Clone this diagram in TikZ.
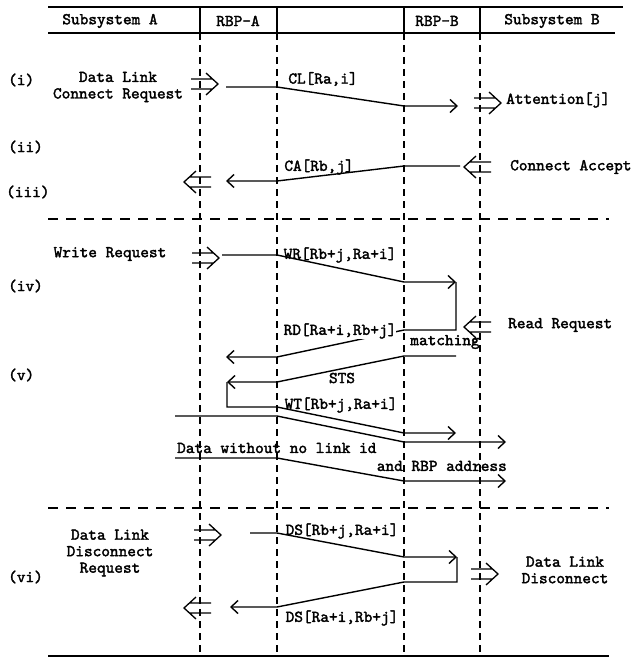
\documentclass[tikz,border=0pt]{standalone}
\usepackage{fontspec}
\setmonofont{lmmono10-regular.otf}[FakeBold=2]
\usetikzlibrary{arrows.meta}

\begin{document}
\begin{tikzpicture}[x=1pt,y=-1pt,
    font=\ttfamily\fontsize{16.5}{16.5}\selectfont,
    lbl/.style={inner sep=0pt,align=center},
    rule/.style={line width=2pt},
    life/.style={line width=1.2pt,dash pattern=on 7pt off 5pt},
    sep/.style={line width=1.2pt,dash pattern=on 10pt off 8pt},
    msg/.style={line width=1.4pt,-{Straight Barb[length=7pt,width=13pt]}},
    dblr/.pic={\draw[line width=1.3pt] (-13,-5) -- (8,-5) (-13,5) -- (8,5)
        (2,-11) -- (14,0) -- (2,11);},
    dbll/.pic={\draw[line width=1.3pt] (13,-5) -- (-8,-5) (13,5) -- (-8,5)
        (-2,-11) -- (-14,0) -- (-2,11);}
  ]
  \path[use as bounding box] (0,0) rectangle (632,658);

  % header
  \coordinate (h0) at (48,7);    \coordinate (h1) at (623,7);
  \coordinate (h2) at (48,33);   \coordinate (h3) at (615,33);
  \draw[rule] (h0) -- (h1);
  \draw[rule] (h2) -- (h3);
  \node[lbl] (hA)  at (110,21) {Subsystem A};
  \node[lbl] (hRA) at (238,21) {RBP-A};
  \node[lbl] (hRB) at (437,21) {RBP-B};
  \node[lbl] (hB)  at (552,21) {Subsystem B};

  % lifelines
  \coordinate (a0) at (200,7);  \coordinate (a1) at (200,33);  \coordinate (a2) at (200,656);
  \coordinate (b0) at (277,7);  \coordinate (b1) at (277,33);  \coordinate (b2) at (277,656);
  \coordinate (c0) at (404,7);  \coordinate (c1) at (404,33);  \coordinate (c2) at (404,656);
  \coordinate (d0) at (480,7);  \coordinate (d1) at (480,33);  \coordinate (d2) at (480,656);
  \draw[line width=1.4pt] (a0) -- (a1) (b0) -- (b1) (c0) -- (c1) (d0) -- (d1);
  \draw[life] (a1) -- (a2);
  \draw[life] (b1) -- (b2);
  \draw[life] (c1) -- (c2);
  \draw[life] (d1) -- (d2);

  % (i) connect request
  \node[lbl,anchor=west] (ri) at (8,80) {(i)};
  \node[lbl] (dlc) at (118,87) {Data Link\\Connect Request};
  \pic at (204,84) {dblr};
  \coordinate (cl0) at (226,87);  \coordinate (cl1) at (277,87);
  \coordinate (cl2) at (404,106); \coordinate (cl3) at (458,106);
  \draw[msg] (cl0) -- (cl1) -- (cl2) -- (cl3);
  \node[lbl] (cll) at (323,79) {CL[Ra,i]};
  \pic at (487,103) {dblr};
  \node[lbl,anchor=west] (att) at (506,100) {Attention[j]};

  % (ii) (iii) connect accept
  \node[lbl,anchor=west] (rii) at (8,147) {(ii)};
  \node[lbl,anchor=west] (riii) at (6,192) {(iii)};
  \pic at (478,167) {dbll};
  \node[lbl,anchor=west] (cac) at (510,167) {Connect Accept};
  \coordinate (ca0) at (460,166); \coordinate (ca1) at (404,166);
  \coordinate (ca2) at (277,181); \coordinate (ca3) at (226,181);
  \draw[msg] (ca0) -- (ca1) -- (ca2) -- (ca3);
  \node[lbl] (cal) at (319,167) {CA[Rb,j]};
  \pic at (198,182) {dbll};

  \coordinate (s1a) at (48,219); \coordinate (s1b) at (609,219);
  \draw[sep] (s1a) -- (s1b);

  % (iv) (v) write / read
  \node[lbl] (wrq) at (110,254) {Write Request};
  \pic at (205,258) {dblr};
  \coordinate (wr0) at (222,255); \coordinate (wr1) at (277,255);
  \coordinate (wr2) at (404,282); \coordinate (wr3) at (456,282);
  \draw[msg] (wr0) -- (wr1) -- (wr2) -- (wr3);
  \node[lbl] (wrl) at (340,255) {WR[Rb+j,Ra+i]};
  \node[lbl,anchor=west] (riv) at (8,286) {(iv)};

  \pic at (478,327) {dbll};
  \node[lbl,anchor=west] (rrq) at (508,325) {Read Request};
  \coordinate (rd0) at (456,330); \coordinate (rd1) at (404,330);
  \coordinate (rd2) at (277,357); \coordinate (rd3) at (226,357);
  \draw[msg] (wr3) -- (rd0) -- (rd1) -- (rd2) -- (rd3);
  \node[lbl,fill=white] (rdl) at (340,331) {RD[Ra+i,Rb+j]};
  \node[lbl] (mat) at (445,342) {matching};

  \coordinate (st0) at (456,356); \coordinate (st1) at (404,356);
  \coordinate (st2) at (277,382); \coordinate (st3) at (227,382);
  \draw[msg] (st0) -- (st1) -- (st2) -- (st3);
  \node[lbl] (stl) at (342,378) {STS};
  \node[lbl,anchor=west] (rv) at (8,375) {(v)};

  \coordinate (wt1) at (227,407); \coordinate (wt2) at (277,407);
  \coordinate (wt3) at (404,433); \coordinate (wt4) at (456,433);
  \draw[msg] (st3) -- (wt1) -- (wt2) -- (wt3) -- (wt4);
  \node[lbl] (wtl) at (341,405) {WT[Rb+j,Ra+i]};

  \coordinate (da0) at (175,416); \coordinate (da1) at (277,416);
  \coordinate (da2) at (404,442); \coordinate (da3) at (506,442);
  \draw[msg] (da0) -- (da1) -- (da2) -- (da3);
  \node[lbl,anchor=west] (dtx) at (177,448) {Data without no link id};
  \coordinate (db0) at (175,458); \coordinate (db1) at (277,458);
  \coordinate (db2) at (404,481); \coordinate (db3) at (506,481);
  \draw[msg] (db0) -- (db1) -- (db2) -- (db3);
  \node[lbl,anchor=east] (rbp) at (507,466) {and RBP address};

  \coordinate (s2a) at (48,508); \coordinate (s2b) at (609,508);
  \draw[sep] (s2a) -- (s2b);

  % (vi) disconnect
  \node[lbl] (dld) at (110,553) {Data Link\\Disconnect\\Request};
  \node[lbl,anchor=west] (rvi) at (8,577) {(vi)};
  \pic at (207,535) {dblr};
  \coordinate (ds0) at (250,533); \coordinate (ds1) at (277,533);
  \coordinate (ds2) at (404,557); \coordinate (ds3) at (457,557);
  \draw[msg] (ds0) -- (ds1) -- (ds2) -- (ds3);
  \node[lbl] (dsl) at (342,531) {DS[Rb+j,Ra+i]};
  \coordinate (ds4) at (457,582); \coordinate (ds5) at (404,582);
  \coordinate (ds6) at (277,607); \coordinate (ds7) at (230,607);
  \draw[msg] (ds3) -- (ds4) -- (ds5) -- (ds6) -- (ds7);
  \node[lbl] (dsr) at (342,618) {DS[Ra+i,Rb+j]};
  \pic at (484,574) {dblr};
  \node[lbl] (dlx) at (565,570) {Data Link\\Disconnect};
  \pic at (198,608) {dbll};

  \coordinate (f0) at (48,656); \coordinate (f1) at (609,656);
  \draw[rule] (f0) -- (f1);
\end{tikzpicture}
\end{document}
